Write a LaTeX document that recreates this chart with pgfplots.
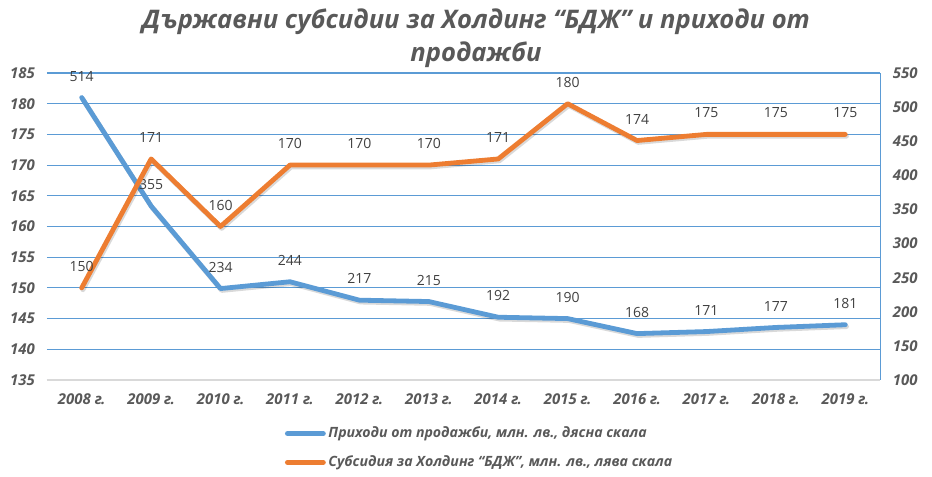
\documentclass[border=0pt]{standalone}
\usepackage{pgfplots}
\pgfplotsset{compat=1.18}
\usepackage{fontspec}
\setmainfont{Open Sans}
\definecolor{cblue}{HTML}{5B9BD5}
\definecolor{corange}{HTML}{ED7D31}
\definecolor{tgray}{HTML}{595959}
\definecolor{lgray}{HTML}{404040}
\definecolor{agray}{HTML}{D9D9D9}
\pgfplotstableread{
x y
0 514
1 355
2 234
3 244
4 217
5 215
6 192
7 190
8 168
9 171
10 177
11 181
}\revenue
\pgfplotstableread{
x y
0 150
1 171
2 160
3 170
4 170
5 170
6 171
7 180
8 174
9 175
10 175
11 175
}\subsidy
\begin{document}
\begin{tikzpicture}
\path[use as bounding box] (-35.25pt,-72.75pt) rectangle (663.75pt,285pt);
\pgfplotsset{
 common/.style={scale only axis, width=624.75pt, height=230.25pt, at={(0,0)}, anchor=south west,
  xmin=-0.5, xmax=11.5, /pgf/number format/assume math mode=true,
  major tick length=0pt, clip=false,
  ticklabel style={font=\fontsize{11.2}{13}\selectfont\bfseries\itshape, text=tgray, inner sep=0pt},
  every node near coord/.append style={anchor=center, yshift=16pt, font=\fontsize{10.5}{12}\selectfont, text=lgray, inner sep=0pt},
 },
 shadowed/.style={preaction={draw=black, draw opacity=0.15, line width=3.6pt, transform canvas={xshift=0.9pt, yshift=-1.4pt}}},
 blueline/.style={cblue, line width=3.6pt, line join=round, line cap=round, shadowed},
 orangeline/.style={corange, line width=3.6pt, line join=round, line cap=round, shadowed},
}
\begin{axis}[common,
  axis x line=none, axis y line*=left,
  y axis line style={draw=none},
  ymin=135, ymax=185, ytick={135,140,...,185},
  yticklabel shift=9pt,
  ymajorgrids=true,
  major grid style={draw=cblue, line width=0.8pt},
]
\addplot[draw=none, forget plot] table[x=x,y=y] {\subsidy};
\end{axis}
\begin{axis}[common,
  axis x line*=bottom, axis y line*=right,
  x axis line style={agray, line width=1.5pt, -},
  y axis line style={cblue, line width=0.75pt, -},
  ymin=100, ymax=550, ytick={100,150,...,550},
  xtick={0,...,11},
  xticklabels={2008 г.,2009 г.,2010 г.,2011 г.,2012 г.,2013 г.,2014 г.,2015 г.,2016 г.,2017 г.,2018 г.,2019 г.},
  xticklabel shift=10pt, yticklabel shift=9.5pt,
]
\addplot[blueline, nodes near coords] table[x=x,y=y] {\revenue};
\end{axis}
\begin{axis}[common,
  axis lines=none,
  ymin=135, ymax=185,
  legend style={at={(axis description cs:0.2857,-0.2215)}, anchor=west, draw=none, fill=none,
    inner sep=0pt, outer sep=0pt, row sep=12pt, column sep=2pt,
    font=\fontsize{10.6}{12}\selectfont\bfseries\itshape, text=tgray,
    nodes={inner sep=0pt}},
  legend cell align=left,
  legend image code/.code={\draw[#1] (0pt,0pt) -- (27pt,0pt);},
]
\addlegendimage{cblue, line width=3.6pt, line cap=round}
\addlegendentry{Приходи от продажби, млн. лв., дясна скала}
\addlegendimage{corange, line width=3.6pt, line cap=round}
\addlegendentry{Субсидия за Холдинг “БДЖ”, млн. лв., лява скала}
\addplot[orangeline, nodes near coords, forget plot] table[x=x,y=y] {\subsidy};
\end{axis}
\node[font=\fontsize{19.2}{24.75}\selectfont\bfseries\itshape, text=tgray, align=center] at (321.75pt,256pt) {Държавни субсидии за Холдинг “БДЖ” и приходи от\\продажби};
\end{tikzpicture}
\end{document}
